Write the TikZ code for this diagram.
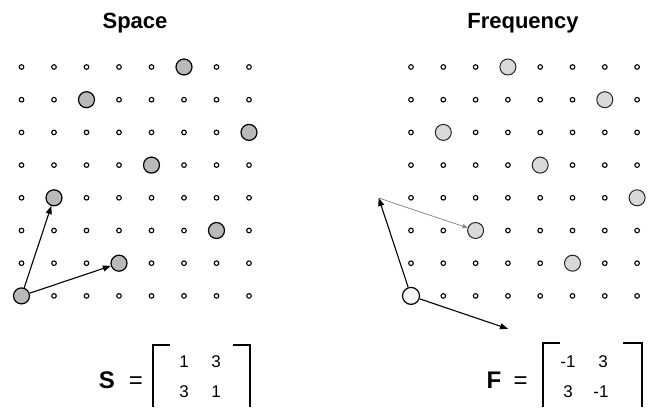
\documentclass[tikz,border=0pt]{standalone}
\usepackage{fontspec}
\setmainfont{Liberation Sans}
\usetikzlibrary{arrows.meta}
\begin{document}
\begin{tikzpicture}[x=1pt,y=-1pt,
  smalldot/.style={circle,draw=black,line width=1.1pt,fill=white,inner sep=0pt,minimum size=4.6pt},
  bigdotL/.style={circle,draw=black,line width=1.2pt,fill=gray!55,inner sep=0pt,minimum size=16pt},
  bigdotR/.style={circle,draw=black!85,line width=1pt,fill=gray!30,inner sep=0pt,minimum size=16pt},
  originR/.style={circle,draw=black,line width=1.2pt,fill=gray!8,inner sep=0pt,minimum size=17pt},
  vec/.style={-{Triangle[length=8pt,width=6pt]},line width=1.1pt,black},
  grayvec/.style={-{Triangle[length=5pt,width=4pt]},line width=0.7pt,gray},
  title/.style={font=\fontsize{22}{26}\selectfont\bfseries,anchor=base,inner sep=0pt},
  bigsym/.style={font=\fontsize{24}{28}\selectfont\bfseries,anchor=base,inner sep=0pt},
  eqsym/.style={font=\fontsize{24}{28}\selectfont,anchor=base,inner sep=0pt},
  entry/.style={font=\fontsize{17}{20}\selectfont,anchor=base,inner sep=0pt},
  brk/.style={line width=1.3pt,black}
]
\useasboundingbox (0,0) rectangle (652,407);
% left lattice (Space)
\foreach \i in {1,...,8}{
  \foreach \j in {1,...,8}{
    \pgfmathtruncatemacro{\yu}{8-\j}
    \pgfmathtruncatemacro{\lb}{mod(3*(\i-1),8)==\yu ? 1 : 0}
    \ifnum\lb=1
      \node[bigdotL] (L-\i-\j) at ({21.5+32.5*(\i-1)},{67+32.7*(\j-1)}) {};
    \else
      \node[smalldot] (L-\i-\j) at ({21.5+32.5*(\i-1)},{67+32.7*(\j-1)}) {};
    \fi
  }
}
% right lattice (Frequency)
\foreach \i in {1,...,8}{
  \foreach \j in {1,...,8}{
    \pgfmathtruncatemacro{\yu}{8-\j}
    \pgfmathtruncatemacro{\rb}{mod(5*(\i-1),8)==\yu ? 1 : 0}
    \pgfmathtruncatemacro{\ro}{(\i==1 && \j==8) ? 1 : 0}
    \ifnum\ro=1
      \node[originR] (R-\i-\j) at ({411+32.3*(\i-1)},{67+32.7*(\j-1)}) {};
    \else
      \ifnum\rb=1
        \node[bigdotR] (R-\i-\j) at ({411+32.3*(\i-1)},{67+32.7*(\j-1)}) {};
      \else
        \node[smalldot] (R-\i-\j) at ({411+32.3*(\i-1)},{67+32.7*(\j-1)}) {};
      \fi
    \fi
  }
}
% vectors
\draw[vec] (L-1-8) -- (L-2-5);
\draw[vec] (L-1-8) -- (L-4-7);
\coordinate (RA) at (378.7,198);
\coordinate (RB) at (508,328.8);
\draw[grayvec] (RA) -- (R-3-6);
\draw[vec] (R-1-8) -- (RA);
\draw[vec] (R-1-8) -- (RB);
% titles
\node[title] (tS) at (135,28) {Space};
\node[title] (tF) at (523,28) {Frequency};
% matrix S
\node[bigsym] (S) at (107,388) {S};
\node[eqsym] (eqS) at (136,388) {=};
\node[entry] (s11) at (184,367) {1};
\node[entry] (s12) at (216,367) {3};
\node[entry] (s21) at (184,397) {3};
\node[entry] (s22) at (216,397) {1};
\draw[brk] (170,345) -- (153,345) -- (153,407);
\draw[brk] (233,345) -- (250,345) -- (250,407);
% matrix F
\node[bigsym] (F) at (494,388) {F};
\node[eqsym] (eqF) at (520.5,388) {=};
\node[entry] (f11) at (568,367) {-1};
\node[entry] (f12) at (603,367) {3};
\node[entry] (f21) at (568,397) {3};
\node[entry] (f22) at (601,397) {-1};
\draw[brk] (560,343) -- (543,343) -- (543,407);
\draw[brk] (623,343) -- (642,343) -- (642,407);
\end{tikzpicture}
\end{document}
